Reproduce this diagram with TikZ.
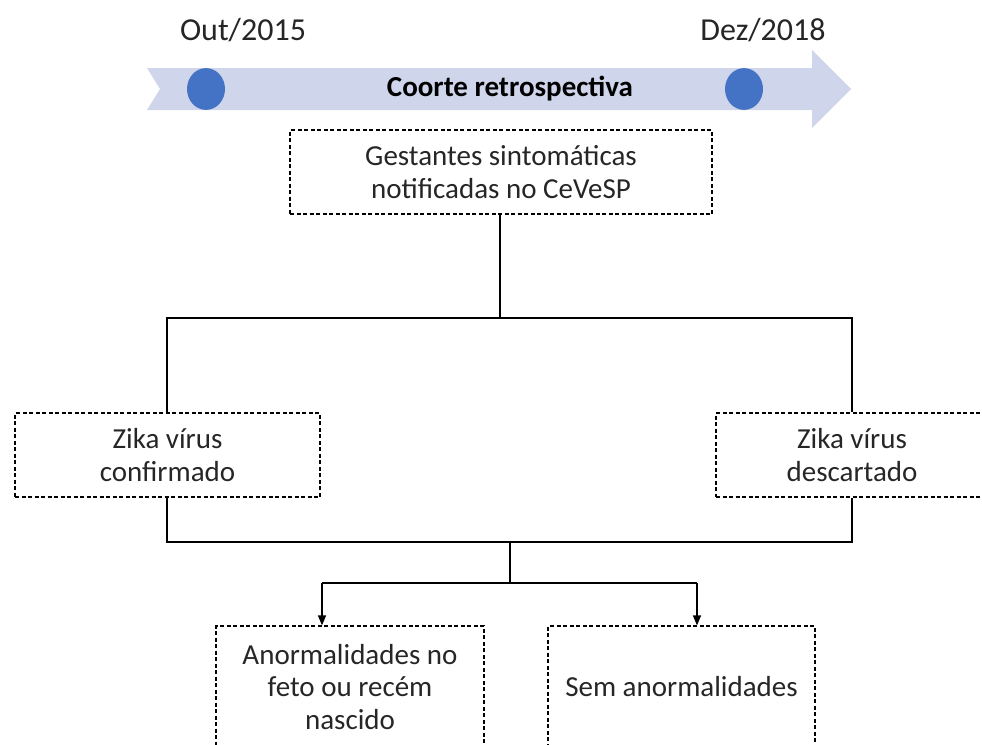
\documentclass[tikz,border=0pt]{standalone}
\usepackage{fontspec}
\setmainfont{Carlito}
\usetikzlibrary{arrows.meta}
\definecolor{bannerfill}{HTML}{CFD5EA}
\definecolor{dotblue}{HTML}{4472C4}
\definecolor{txt}{HTML}{262626}
\tikzset{
  box/.style={draw=black, line width=1.2pt, dash pattern=on 4pt off 2.5pt, inner sep=0pt, align=center, text=txt, font=\fontsize{29}{32.5}\selectfont},
  conn/.style={draw=black, line width=1.3pt},
  arr/.style={conn, -{Triangle[length=10pt,width=8pt]}},
  dot/.style={fill=dotblue, circle, minimum size=38pt, inner sep=0pt, yscale=1.1},
  datelbl/.style={text=txt, font=\fontsize{32}{36}\selectfont}
}
\begin{document}
\begin{tikzpicture}[x=1pt,y=-1pt]
\useasboundingbox (0,0) rectangle (982,744);
\clip (0,0) rectangle (982,744);
% banner
\fill[bannerfill] (147,68) -- (812,68) -- (812,50) -- (851,89) -- (812,128) -- (812,110) -- (147,110) -- (160,89) -- cycle;
\node[dot] (d1) at (206,89) {};
\node[dot] (d2) at (744,89) {};
\node[font=\bfseries\fontsize{29}{32}\selectfont, text=black] (title) at (510,89) {Coorte retrospectiva};
\node[datelbl] (t1) at (243,30) {Out/2015};
\node[datelbl] (t2) at (763,30) {Dez/2018};
% boxes
\node[box, minimum width=422pt, minimum height=84pt] (top) at (501,172) {Gestantes sintomáticas\\notificadas no CeVeSP};
\node[box, minimum width=305pt, minimum height=84pt] (conf) at (167.5,455) {Zika vírus\\confirmado};
\node[box, minimum width=272pt, minimum height=84pt] (desc) at (852,455) {Zika vírus\\descartado};
\node[box, minimum width=268pt, minimum height=122pt] (anor) at (350,687) {Anormalidades no\\feto ou recém\\nascido};
\node[box, minimum width=267pt, minimum height=122pt] (sem) at (681.5,687) {Sem anormalidades};
% connectors
\coordinate (j1) at (500,318);
\coordinate (j1l) at (167,318);
\coordinate (j1r) at (852,318);
\coordinate (j2l) at (167,542);
\coordinate (j2r) at (852,542);
\coordinate (j2) at (510,542);
\coordinate (j3) at (510,583);
\coordinate (j3l) at (322,583);
\coordinate (j3r) at (697,583);
\draw[conn] (top.south -| j1) -- (j1);
\draw[conn] (j1l |- conf.north) -- (j1l) -- (j1r) -- (j1r |- desc.north);
\draw[conn] (j2l |- conf.south) -- (j2l) -- (j2r) -- (j2r |- desc.south);
\draw[conn] (j2) -- (j3);
\draw[conn] (j3l) -- (j3r);
\draw[arr] (j3l) -- (j3l |- anor.north);
\draw[arr] (j3r) -- (j3r |- sem.north);
\end{tikzpicture}
\end{document}
